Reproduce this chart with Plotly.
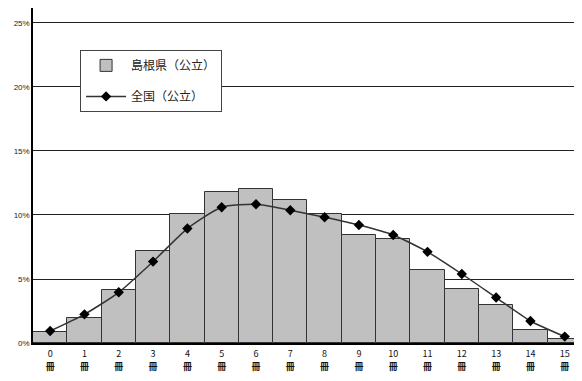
import plotly.graph_objects as go

categories = [str(i) for i in range(16)]
tick_labels = [f"<span style='font-size:9px'>{i}</span><br><b style='font-size:9px'>冊</b>" for i in range(16)]
shimane = [0.86, 1.98, 4.14, 7.19, 10.1, 11.8, 12.0, 11.15, 10.1, 8.43, 8.16, 5.68, 4.25, 2.95, 0.99, 0.34]
national = [0.94, 2.24, 3.96, 6.36, 8.94, 10.6, 10.84, 10.37, 9.82, 9.22, 8.44, 7.12, 5.39, 3.55, 1.72, 0.5]
y_ticks = [0, 5, 10, 15, 20, 25]
y_tick_text = [f"{v}%" for v in y_ticks]

fig = go.Figure()
fig.add_trace(go.Bar(
    x=categories, y=shimane, name="島根県（公立）", legendgroup="a",
    marker=dict(color="#c0c0c0", line=dict(color="#333333", width=1)),
))
fig.add_trace(go.Scatter(
    x=categories, y=national, name="全国（公立）", mode="lines+markers", legendgroup="b",
    line=dict(color="#333333", width=1.5, shape="spline", smoothing=0.6),
    marker=dict(symbol="diamond", size=8, color="#000000"),
))

fig.update_layout(
    width=566, height=365,
    margin=dict(l=25, r=0, t=0, b=30),
    plot_bgcolor="white", paper_bgcolor="white",
    bargap=0,
    font=dict(family="Noto Sans CJK JP, Liberation Sans", color="#222222"),
    showlegend=True,
    legend=dict(
        x=0.087, y=0.875, xanchor="left", yanchor="top",
        bgcolor="white", bordercolor="#444444", borderwidth=1,
        font=dict(size=12, family="Noto Sans CJK JP", color="#222222"),
        tracegroupgap=12, itemwidth=40,
    ),
)
fig.update_xaxes(
    automargin=False, range=[-0.5, 15.27],
    tickmode="array", tickvals=categories, ticktext=tick_labels,
    tickfont=dict(size=10, family="Noto Sans CJK JP", color="#111111"),
    showline=True, linecolor="#000000", linewidth=1.5,
    showgrid=False, ticks="", ticklabelstandoff=0,
)
fig.update_yaxes(
    automargin=False,
    range=[0, 26.17], tickmode="array", tickvals=y_ticks, ticktext=y_tick_text,
    tickfont=dict(size=8, family="Liberation Sans Narrow, Liberation Sans", color="#222222"),
    showline=True, linecolor="#000000", linewidth=1.5,
    showgrid=True, gridcolor="#222222", gridwidth=1.2,
    zeroline=False, ticks="",
)

fig.write_html("out.html")
